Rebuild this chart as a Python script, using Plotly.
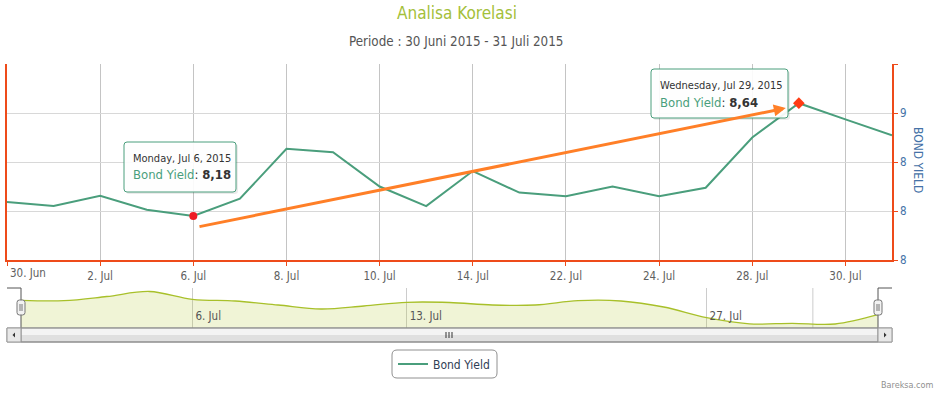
import plotly.graph_objects as go

W, H = 940, 394

# ---------------- data ----------------
dates = ["2015-06-30", "2015-07-01", "2015-07-02", "2015-07-03", "2015-07-06",
         "2015-07-07", "2015-07-08", "2015-07-09", "2015-07-10", "2015-07-13",
         "2015-07-14", "2015-07-15", "2015-07-22", "2015-07-23", "2015-07-24",
         "2015-07-27", "2015-07-28", "2015-07-29", "2015-07-30", "2015-07-31"]
yields = [8.237, 8.22, 8.262, 8.205, 8.18, 8.25, 8.454, 8.44, 8.30, 8.22,
          8.363, 8.275, 8.26, 8.30, 8.26, 8.295, 8.50, 8.64, 8.574, 8.509]

tick_dates = ["2015-06-30", "2015-07-02", "2015-07-06", "2015-07-08", "2015-07-10",
              "2015-07-14", "2015-07-22", "2015-07-24", "2015-07-28", "2015-07-30"]
tick_labels = ["30. Jun", "2. Jul", "6. Jul", "8. Jul", "10. Jul",
               "14. Jul", "22. Jul", "24. Jul", "28. Jul", "30. Jul"]

y_ticks = [8.0, 8.2, 8.4, 8.6, 8.8]
y_tick_labels = ["8", "8", "8", "9", ""]

nav_dates = ["2015-06-30", "2015-07-01", "2015-07-02", "2015-07-03", "2015-07-06",
             "2015-07-07", "2015-07-08", "2015-07-09", "2015-07-10", "2015-07-13",
             "2015-07-14", "2015-07-15", "2015-07-16", "2015-07-22", "2015-07-23",
             "2015-07-24", "2015-07-27", "2015-07-28", "2015-07-29", "2015-07-30",
             "2015-07-31"]
nav_values = [27.7, 27.3, 31.5, 36.5, 28.7, 27.0, 23.0, 19.0, 22.0, 25.7,
              25.5, 23.0, 23.0, 27.3, 27.0, 21.0, 10.3, 4.2, 4.7, 4.0, 13.3]
nav_tick_dates = ["2015-07-06", "2015-07-13", "2015-07-27"]
nav_tick_labels = ["6. Jul", "13. Jul", "27. Jul"]

tooltip_idx = [4, 17]
tooltip_days = ["Monday, Jul 6, 2015", "Wednesday, Jul 29, 2015"]

# ---------------- helpers ----------------
def px(x):
    return x / W

def py(y):
    return 1 - y / H

def rounded_rect(x0, y0, x1, y1, r):
    pts = [
        f"M {px(x0 + r)},{py(y0)}", f"L {px(x1 - r)},{py(y0)}",
        f"Q {px(x1)},{py(y0)} {px(x1)},{py(y0 + r)}", f"L {px(x1)},{py(y1 - r)}",
        f"Q {px(x1)},{py(y1)} {px(x1 - r)},{py(y1)}", f"L {px(x0 + r)},{py(y1)}",
        f"Q {px(x0)},{py(y1)} {px(x0)},{py(y1 - r)}", f"L {px(x0)},{py(y0 + r)}",
        f"Q {px(x0)},{py(y0)} {px(x0 + r)},{py(y0)}", "Z"]
    return " ".join(pts)

ORANGE = "#ee4b1a"
GREEN = "#4a9e7c"
FONT = "DejaVu Sans Condensed, Liberation Sans, sans-serif"

fig = go.Figure()

fig.add_trace(go.Scatter(
    x=dates, y=yields, mode="lines", name="Bond Yield",
    line=dict(color=GREEN, width=2), xaxis="x", yaxis="y",
    hoverinfo="skip"))

fig.add_trace(go.Scatter(
    x=[dates[4]], y=[yields[4]], mode="markers", showlegend=False,
    marker=dict(color="#ee1c25", size=8, symbol="circle"), xaxis="x", yaxis="y"))
fig.add_trace(go.Scatter(
    x=[dates[17]], y=[yields[17]], mode="markers", showlegend=False,
    marker=dict(color="#ff3c14", size=9, symbol="diamond"), xaxis="x", yaxis="y"))

fig.add_trace(go.Scatter(
    x=nav_dates, y=nav_values, mode="lines", showlegend=False,
    line=dict(color="#a8c02a", width=1.3, shape="spline", smoothing=1.0),
    fill="tozeroy", fillcolor="rgba(180,200,50,0.2)",
    xaxis="x2", yaxis="y2", hoverinfo="skip"))

shapes = []
annotations = []

# navigator extra gridline
shapes.append(dict(type="line", xref="x2", yref="paper", x0=18.48, x1=18.48,
                   y0=py(328), y1=py(288), line=dict(color="#cccccc", width=1),
                   layer="below"))

# navigator outline & handles
for pts in ([(7, 288), (21, 288), (21, 328)], [(878, 328), (878, 288), (892, 288)]):
    path = "M " + " L ".join(f"{px(a)},{py(b)}" for a, b in pts)
    shapes.append(dict(type="path", xref="paper", yref="paper", path=path,
                       line=dict(color="#555555", width=1)))
for hx in (21, 878):
    shapes.append(dict(type="path", xref="paper", yref="paper",
                       path=rounded_rect(hx - 4, 300, hx + 4, 315, 2.5),
                       fillcolor="#f2f2f2", line=dict(color="#777777", width=1)))
    for dx in (-1, 1):
        shapes.append(dict(type="line", xref="paper", yref="paper",
                           x0=px(hx + dx), x1=px(hx + dx), y0=py(311), y1=py(304),
                           line=dict(color="#777777", width=1)))

# scrollbar
shapes.append(dict(type="rect", xref="paper", yref="paper", x0=px(7), x1=px(892),
                   y0=py(342), y1=py(328), fillcolor="#e0e0e0",
                   line=dict(color="#999999", width=1)))
shapes.append(dict(type="rect", xref="paper", yref="paper", x0=px(21), x1=px(878),
                   y0=py(335), y1=py(328.5), fillcolor="#f4f4f4",
                   line=dict(width=0)))
shapes.append(dict(type="rect", xref="paper", yref="paper", x0=px(21), x1=px(878),
                   y0=py(342), y1=py(328), fillcolor="rgba(0,0,0,0)",
                   line=dict(color="#888888", width=1)))
for bx in (7, 878):
    shapes.append(dict(type="rect", xref="paper", yref="paper", x0=px(bx), x1=px(bx + 14),
                       y0=py(342), y1=py(328), fillcolor="#e8e8e8",
                       line=dict(color="#999999", width=1)))
shapes.append(dict(type="path", xref="paper", yref="paper",
                   path=f"M {px(15)},{py(332.5)} L {px(12.5)},{py(335)} L {px(15)},{py(337.5)} Z",
                   fillcolor="#333333", line=dict(width=0)))
shapes.append(dict(type="path", xref="paper", yref="paper",
                   path=f"M {px(884)},{py(332.5)} L {px(886.5)},{py(335)} L {px(884)},{py(337.5)} Z",
                   fillcolor="#333333", line=dict(width=0)))
for gx in (446, 449, 452):
    shapes.append(dict(type="line", xref="paper", yref="paper", x0=px(gx), x1=px(gx),
                       y0=py(338), y1=py(332), line=dict(color="#333333", width=1)))

# legend box (rounded)
shapes.append(dict(type="path", xref="paper", yref="paper",
                   path=rounded_rect(392, 350, 497, 378, 5),
                   fillcolor="rgba(0,0,0,0)", line=dict(color="#909090", width=1)))

# trend arrow
annotations.append(dict(x=16.72, y=8.62, ax=4.1, ay=8.135, xref="x", yref="y",
                        axref="x", ayref="y", text="", showarrow=True,
                        arrowhead=2, arrowsize=0.8, arrowwidth=3,
                        arrowcolor="#ff7f27"))

# tooltips (box as shapes, text as annotations)
tip_boxes = [(124, 142, 236, 192), (651, 69, 788, 118)]
for (x0, y0, x1, y1), i, day in zip(tip_boxes, tooltip_idx, tooltip_days):
    shapes.append(dict(type="path", xref="paper", yref="paper", layer="above",
                       path=rounded_rect(x0 + 2, y0 + 2, x1 + 2, y1 + 2, 3),
                       fillcolor="rgba(0,0,0,0.08)", line=dict(width=0)))
    shapes.append(dict(type="path", xref="paper", yref="paper", layer="above",
                       path=rounded_rect(x0, y0, x1, y1, 3),
                       fillcolor="rgba(255,255,255,0.92)",
                       line=dict(color=GREEN, width=1)))
    val = f"{yields[i]:.2f}".replace(".", ",")
    annotations.append(dict(x=px(x0 + 7), y=py(y0 + 16), xref="paper", yref="paper",
                            xanchor="left", yanchor="middle",
                            text=day, showarrow=False,
                            font=dict(family=FONT, size=11, color="#333333")))
    annotations.append(dict(x=px(x0 + 7), y=py(y0 + 33), xref="paper", yref="paper",
                            xanchor="left", yanchor="middle",
                            text=(f"<span style='color:{GREEN}'>Bond Yield</span>"
                                  f"<span style='color:#333333'>: <b>{val}</b></span>"),
                            showarrow=False,
                            font=dict(family=FONT, size=13, color="#333333")))

# first x label (edge label shifted inward, as the original does)
annotations.append(dict(x=px(8), y=py(273), xref="paper", yref="paper",
                        xanchor="left", yanchor="middle", text=tick_labels[0],
                        showarrow=False, font=dict(family=FONT, size=11.5, color="#606060")))

# titles
annotations.append(dict(x=px(457), y=py(13), xref="paper", yref="paper",
                        xanchor="center", yanchor="middle",
                        text="Analisa Korelasi", showarrow=False,
                        font=dict(family=FONT, size=17, color="#a4c03a")))
annotations.append(dict(x=px(456), y=py(41), xref="paper", yref="paper",
                        xanchor="center", yanchor="middle",
                        text="Periode : 30 Juni 2015 - 31 Juli 2015", showarrow=False,
                        font=dict(family=FONT, size=13.3, color="#555555")))
annotations.append(dict(x=px(918), y=py(160), xref="paper", yref="paper",
                        xanchor="center", yanchor="middle",
                        text="BOND YIELD", showarrow=False, textangle=90,
                        font=dict(family=FONT, size=12, color="#4572a7")))
annotations.append(dict(x=px(935), y=py(385), xref="paper", yref="paper",
                        xanchor="right", yanchor="middle",
                        text="Bareksa.com", showarrow=False,
                        font=dict(family=FONT, size=9, color="#909090")))

shown_ticks = [""] + list(tick_labels[1:])

fig.update_layout(
    width=W, height=H, autosize=False,
    margin=dict(l=0, r=0, t=0, b=0, autoexpand=False),
    paper_bgcolor="white", plot_bgcolor="white",
    font=dict(family=FONT, size=11, color="#606060"),
    showlegend=True,
    legend=dict(x=px(444), y=py(364), xanchor="center", yanchor="middle",
                borderwidth=0, bgcolor="rgba(0,0,0,0)",
                font=dict(family=FONT, size=12, color="#2f3e55"),
                itemwidth=30),
    xaxis=dict(domain=[px(7), px(892)], type="category", range=[0, 19],
               tickmode="array", tickvals=tick_dates, ticktext=shown_ticks,
               showgrid=True, gridcolor="#c4c4c4", gridwidth=1,
               showline=True, linecolor=ORANGE, linewidth=1.5,
               ticks="outside", ticklen=4, tickcolor=ORANGE,
               tickfont=dict(size=11.5, color="#606060"), zeroline=False,
               anchor="y", fixedrange=True, automargin=False),
    yaxis=dict(domain=[py(260), py(64)], range=[8.0, 8.8], side="right",
               tickmode="array", tickvals=y_ticks, ticktext=y_tick_labels,
               showgrid=True, gridcolor="#d8d8d8", gridwidth=1,
               showline=True, linecolor=ORANGE, linewidth=1.5, mirror=True,
               ticks="outside", ticklen=4, tickcolor=ORANGE,
               tickfont=dict(size=11.5, color="#4572a7"), zeroline=False,
               anchor="x", fixedrange=True, automargin=False),
    xaxis2=dict(domain=[px(21), px(878)], type="category", range=[0, 20],
                tickmode="array", tickvals=nav_tick_dates, ticktext=nav_tick_labels,
                ticklabelposition="inside right", ticklabelshift=3,
                showgrid=True, gridcolor="#cccccc", showline=False, ticks="",
                tickfont=dict(size=11.5, color="#555555"), zeroline=False,
                anchor="y2", fixedrange=True, automargin=False),
    yaxis2=dict(domain=[py(328), py(288)], range=[0, 40], visible=False,
                anchor="x2", fixedrange=True),
    shapes=shapes, annotations=annotations,
)

fig.write_html("out.html", config={"displayModeBar": False},
               post_script="document.body.style.margin='0px';")
